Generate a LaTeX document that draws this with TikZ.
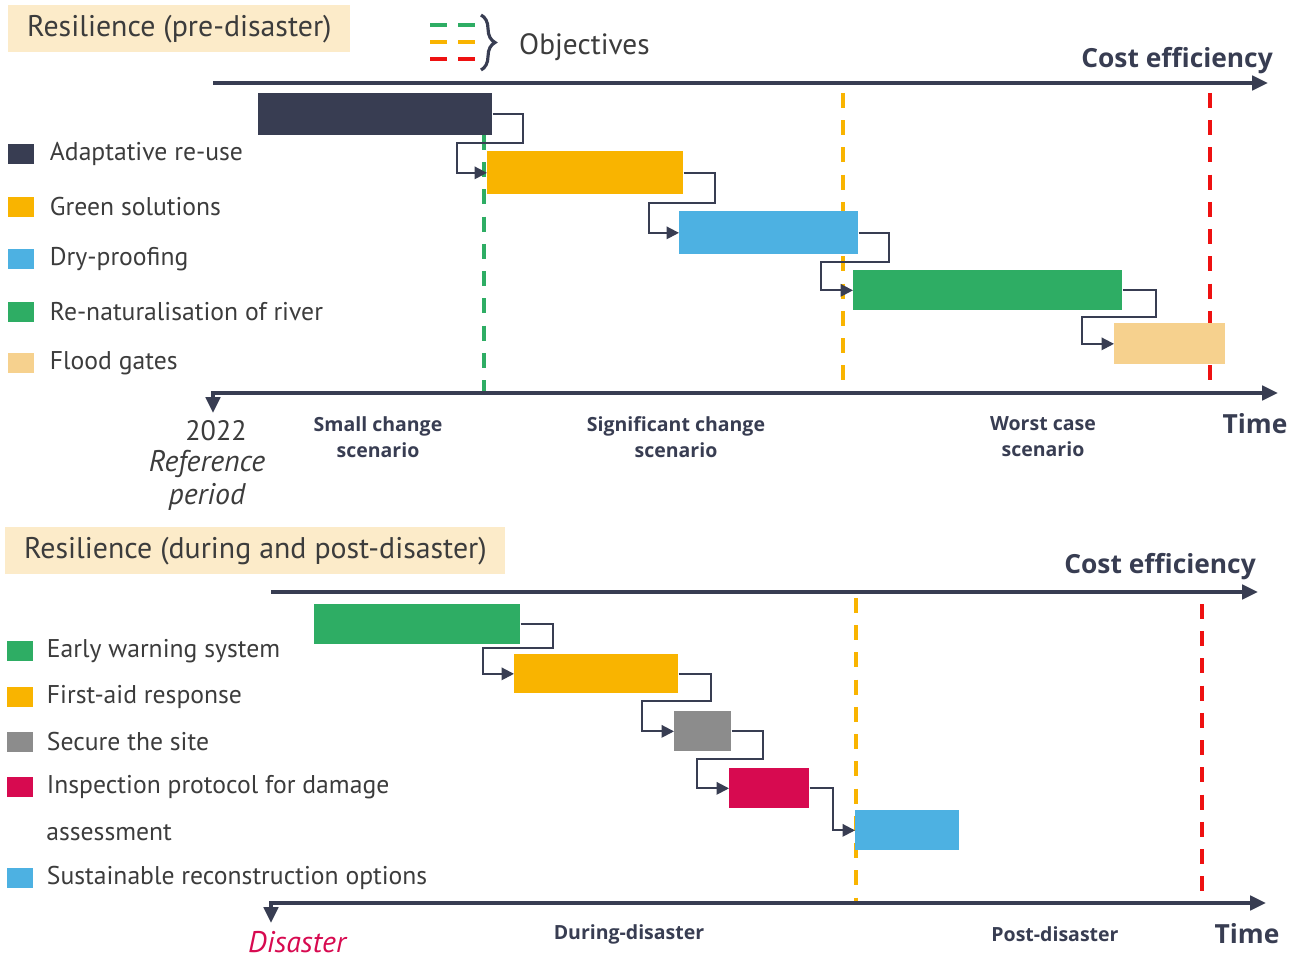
\documentclass[tikz,border=0pt]{standalone}
\usepackage{fontspec}
\setmainfont{PT Sans}
\newfontfamily\headfont{Open Sans}
\usetikzlibrary{arrows.meta,decorations.pathreplacing,positioning,calc}
\definecolor{navy}{HTML}{383D52}
\definecolor{ink}{HTML}{3C3C3C}
\definecolor{gold}{HTML}{F9B400}
\definecolor{sky}{HTML}{4DB1E2}
\definecolor{leaf}{HTML}{2EAD64}
\definecolor{sand}{HTML}{F6D18E}
\definecolor{peach}{HTML}{FCEBC9}
\definecolor{stone}{HTML}{8C8C8C}
\definecolor{crimson}{HTML}{D70A50}
\definecolor{alarm}{HTML}{EE1111}

\begin{document}
\begin{tikzpicture}[x=.02cm,y=-.02cm,
  bar/.style 2 args={inner sep=0,minimum width=#1*.02cm,minimum height=#2*.02cm,anchor=north west},
  key/.style={fill=#1,minimum width=.53cm,minimum height=.39cm,inner sep=0},
  item/.style={anchor=west,inner sep=0,text=ink,font=\fontsize{14.6}{17}\selectfont},
  link/.style={navy,line width=1.1pt,-{Triangle[length=7pt,width=7pt]}},
  axis/.style={navy,line width=2.3pt},
  goal/.style={line width=2.2pt,dash pattern=on 8.5pt off 7pt},
  lbl/.style={text=navy,align=center,font=\headfont\bfseries\fontsize{11.1}{14.8}\selectfont},
  big/.style={text=navy,font=\headfont\bfseries\fontsize{#1}{#1}\selectfont},
  note/.style={inner sep=0,text=ink,font=\itshape\fontsize{17}{20}\selectfont},
  head/.style={bar={#1}{47},fill=peach,text=ink,font=\fontsize{17}{20}\selectfont}]
\useasboundingbox (0,0) rectangle (1301,959);
% ---- pre-disaster ----
\node[head=342] (t1) at (8,5) {Resilience (pre-disaster)};
\foreach \c/\y in {leaf/25,gold/42,alarm/59}{\draw[\c,line width=2.4pt] (430,\y)--(447,\y) (458,\y)--(475,\y);}
\draw[navy,line width=1.8pt,decorate,decoration={brace,amplitude=8pt}] (481,15) -- (481,70);
\node[anchor=west,text=ink,font=\fontsize{16.7}{19}\selectfont] (obj) at (513,47) {Objectives};
\draw[axis,-{Triangle[length=9pt,width=8pt]}] (213,83) -- (1268,83);
\node[big=15,anchor=east] (ce1) at (1279,61) {Cost efficiency};
\draw[goal,leaf] (484,135) -- (484,393);
\draw[goal,gold] (843,93) -- (843,393);
\draw[goal,alarm] (1210,93) -- (1210,393);
\node[bar={234}{42},fill=navy] (reuse) at (258,93) {};
\node[bar={196}{43},fill=gold] (green) at (487,151) {};
\node[bar={179}{43},fill=sky] (dry) at (679,211) {};
\node[bar={269}{40},fill=leaf] (river) at (853,270) {};
\node[bar={111}{41},fill=sand] (gates) at (1114,323) {};
\draw[link] (reuse.east) -- ++(30,0) |- (457,143) |- (green.west);
\draw[link] (green.east) -- ++(31,0) |- (649,203) |- (dry.west);
\draw[link] (dry.east) -- ++(30,0) |- (821,262) |- (river.west);
\draw[link] (river.east) -- ++(33,0) |- (1082,317) |- (gates.west);
\draw[axis,{Triangle[length=9pt,width=8pt]}-{Triangle[length=9pt,width=8pt]}] (213,413) -- (213,393) -- (1278,393);
\node[key=navy] (k1) at (21,154) {};
\node[key=gold] (k2) at (21,207) {};
\node[key=sky] (k3) at (21,259) {};
\node[key=leaf] (k4) at (21,312) {};
\node[key=sand] (k5) at (21,363) {};
\node[item,right=.3cm of k1] {Adaptative re-use};
\node[item,right=.3cm of k2] {Green solutions};
\node[item,right=.3cm of k3] {Dry-proofing};
\node[item,right=.3cm of k4] {Re-naturalisation of river};
\node[item,right=.3cm of k5] {Flood gates};
\node[lbl] (s1) at (378,437) {Small change\\scenario};
\node[lbl] (s2) at (676,437) {Significant change\\scenario};
\node[lbl] (s3) at (1043,437) {Worst case\\scenario};
\node[big=15] (time1) at (1255,424) {Time};
\node[note,font=\fontsize{16}{19}\selectfont] (yr) at (216,431) {2022};
\node[note] (ref) at (207,464) {Reference};
\node[note] (per) at (207,497) {period};
% ---- during and post-disaster ----
\node[head=500] (t2) at (5,527) {Resilience (during and post-disaster)};
\draw[axis,-{Triangle[length=9pt,width=8pt]}] (271,592) -- (1258,592);
\node[big=15,anchor=east] (ce2) at (1262,567) {Cost efficiency};
\draw[goal,gold] (856,598) -- (856,903);
\draw[goal,alarm] (1202,604) -- (1202,903);
\node[bar={206}{40},fill=leaf] (warn) at (314,604) {};
\node[bar={164}{39},fill=gold] (aid) at (514,654) {};
\node[bar={57}{40},fill=stone] (site) at (674,711) {};
\node[bar={80}{40},fill=crimson] (insp) at (729,768) {};
\node[bar={104}{40},fill=sky] (rebuild) at (855,810) {};
\draw[link] (warn.east) -- ++(32,0) |- (483,648) |- (aid.west);
\draw[link] (aid.east) -- ++(32,0) |- (642,701) |- (site.west);
\draw[link] (site.east) -- ++(31,0) |- (697,759) |- (insp.west);
\draw[link] (insp.east) -- ++(23,0) |- (rebuild.west);
\draw[axis,{Triangle[length=9pt,width=8pt]}-{Triangle[length=9pt,width=8pt]}] (271,923) -- (271,903) -- (1266,903);
\node[key=leaf] (q1) at (20,651) {};
\node[key=gold] (q2) at (20,697) {};
\node[key=stone] (q3) at (20,742) {};
\node[key=crimson] (q4) at (20,787) {};
\node[key=sky] (q5) at (20,878) {};
\node[item,right=.26cm of q1] {Early warning system};
\node[item,right=.26cm of q2] {First-aid response};
\node[item,right=.26cm of q3] {Secure the site};
\node[item,right=.26cm of q4] (dmg) {Inspection protocol for damage};
\node[item] at (46,833) {assessment};
\node[item,right=.26cm of q5] {Sustainable reconstruction options};
\node[lbl] (d1) at (629,934) {During-disaster};
\node[lbl] (d2) at (1055,934) {Post-disaster};
\node[big=15] (time2) at (1247,934) {Time};
\node[note,text=crimson] (dis) at (297,942) {Disaster};
\end{tikzpicture}
\end{document}
